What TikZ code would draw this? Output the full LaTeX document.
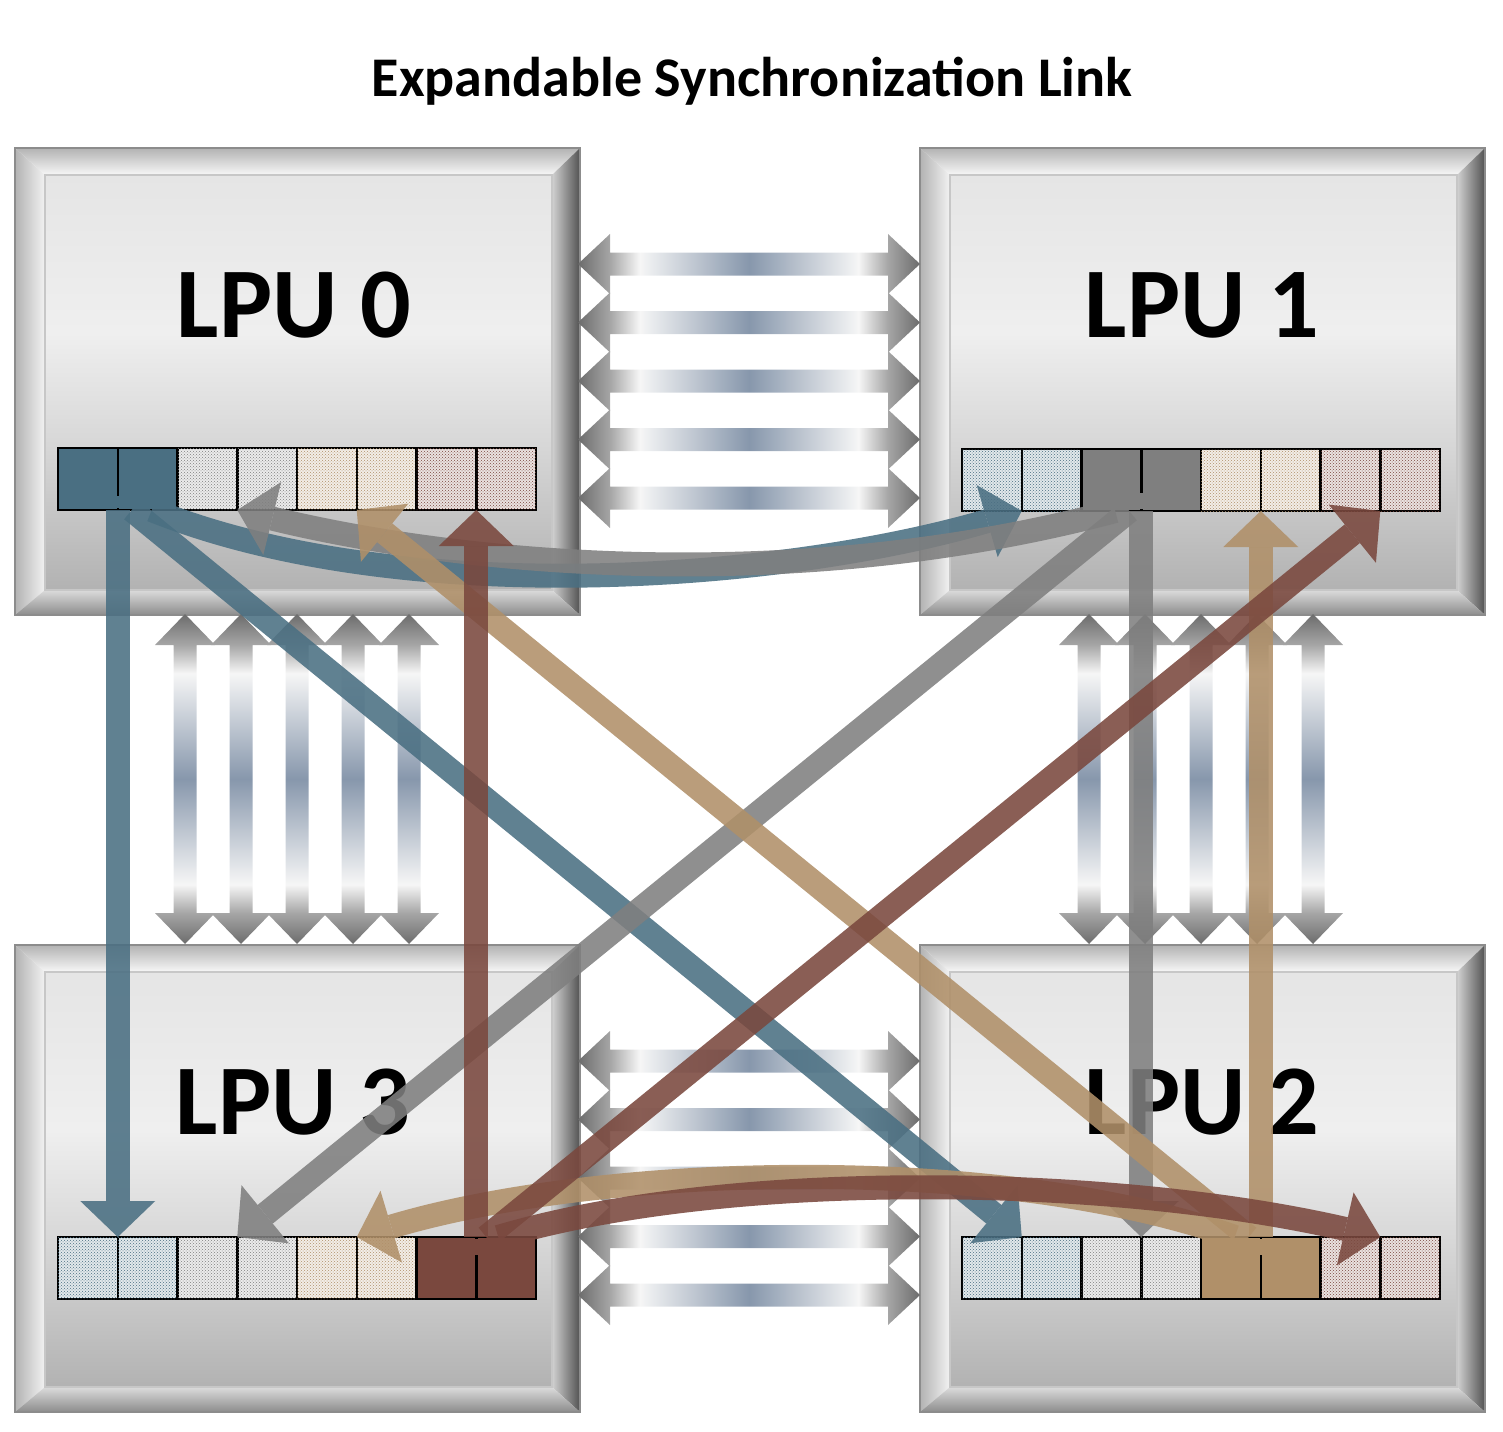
\documentclass[tikz,border=0pt]{standalone}
\usepackage{fontspec}
\setmainfont{Carlito}
\usepackage{tikz}
\usetikzlibrary{arrows.meta,patterns,positioning}

\definecolor{lnkblue}{HTML}{4A6F82}
\definecolor{lnkgrey}{HTML}{7F7F7F}
\definecolor{lnktan}{HTML}{B09069}
\definecolor{lnkred}{HTML}{7A483E}
\definecolor{barend}{HTML}{6C6C6C}
\definecolor{barhead}{HTML}{A6A6A6}
\definecolor{barlight}{HTML}{F6F6F6}
\definecolor{barmid}{HTML}{8797AC}
\definecolor{panelbot}{HTML}{B2B2B2}
\definecolor{panelmid}{HTML}{D6D6D6}
\definecolor{panelhi}{HTML}{EFEFEF}
\definecolor{paneltop}{HTML}{E5E5E5}

% link bar: grey heads, white, blue-grey centre
\pgfdeclarehorizontalshading{linkbar}{100bp}{%
  color(0bp)=(barend); color(25bp)=(barend); color(29.7bp)=(barhead);
  color(34bp)=(barlight); color(50bp)=(barmid); color(66bp)=(barlight);
  color(70.3bp)=(barhead); color(75bp)=(barend); color(100bp)=(barend)}
% LPU panel, darker at the bottom
\pgfdeclareverticalshading{lpupanel}{100bp}{%
  color(0bp)=(panelbot); color(25bp)=(panelbot); color(42bp)=(panelmid);
  color(56bp)=(panelhi); color(75bp)=(paneltop); color(100bp)=(paneltop)}

% bevelled LPU frame, #1,#2 = top left corner (px)
\newcommand{\lpuframe}[2]{%
  \begin{scope}[shift={(#1,#2)}]
    \shade[shading=lpupanel] (30,27) rectangle (537,442);
    \shade[top color=black!30,bottom color=black!3] (0,0) -- (565,0) -- (537,27) -- (30,27) -- cycle;
    \shade[left color=black!30,right color=black!5] (0,0) -- (30,27) -- (30,442) -- (0,467) -- cycle;
    \shade[left color=black!18,right color=black!68] (565,0) -- (537,27) -- (537,442) -- (565,467) -- cycle;
    \shade[top color=black!14,bottom color=black!45] (0,467) -- (30,442) -- (537,442) -- (565,467) -- cycle;
    \draw[black!45,line width=1.2pt] (0,0) rectangle (565,467);
    \draw[black!22,line width=1.5pt] (30,27) rectangle (537,442);
  \end{scope}}

% row of 8 slots: #1 name, #2 left edge, #3 centre y, #4 solid pair
\newcommand{\lpurow}[4]{%
  \foreach \i/\col in {1/lnkblue,2/lnkblue,3/lnkgrey,4/lnkgrey,5/lnktan,6/lnktan,7/lnkred,8/lnkred} {
    \pgfmathtruncatemacro{\pair}{(\i+1)/2}
    \ifnum\pair=#4
      \node[slot,fill=\col] (#1c\i) at ({#2+29.875+(\i-1)*59.75},#3) {};
    \else
      \node[slot,fill=\col!16!white,postaction={pattern=crosshatch dots,pattern color=\col}] (#1c\i) at ({#2+29.875+(\i-1)*59.75},#3) {};
    \fi
  }}

\begin{document}
\begin{tikzpicture}[x=1pt,y=-1pt,
    title/.style={font=\fontsize{56}{56}\selectfont\bfseries},
    lpulabel/.style={font=\fontsize{100}{100}\selectfont\bfseries,anchor=base},
    slot/.style={draw=black,line width=2.5pt,minimum width=59.75pt,minimum height=62pt,inner sep=0pt,outer sep=0pt},
    flow/.style={line width=24pt,opacity=0.88,-{Triangle[width=75pt,length=36pt,line width=0pt]}},
    linkh/.style={shading=linkbar},
    linkv/.style={shading=linkbar,shading angle=90}]
  \useasboundingbox (0,0) rectangle (1503,1431);

  % title
  \node[title,anchor=base] (title) at (752,97) {Expandable Synchronization Link};

  % LPU frames
  \lpuframe{15}{148}
  \lpuframe{920}{148}
  \lpuframe{920}{945}
  \lpuframe{15}{945}

  % synchronization links, horizontal
  \foreach \y in {264,322.5,381,439.5,498,1061,1119.5,1178,1236.5,1295} {
    \shade[linkh] (578,\y) -- ++(32,-30) -- ++(0,18.5) -- ++(278,0) -- ++(0,-18.5) -- ++(32,30)
      -- ++(-32,30) -- ++(0,-18.5) -- ++(-278,0) -- ++(0,18.5) -- cycle;
  }
  % synchronization links, vertical
  \foreach \x in {185,241,297,353,409,1089,1145,1201,1257,1313} {
    \shade[linkv] (\x,614) -- ++(30,31) -- ++(-18.5,0) -- ++(0,268) -- ++(18.5,0) -- ++(-30,31)
      -- ++(-30,-31) -- ++(18.5,0) -- ++(0,-268) -- ++(-18.5,0) -- cycle;
  }

  % slot rows
  \lpurow{r0}{58}{479}{1}
  \lpurow{r1}{962}{480}{2}
  \lpurow{r2}{962}{1268}{3}
  \lpurow{r3}{58}{1268}{4}
  \draw[lnkblue,line width=3pt] ([yshift=2pt]r0c1.south east) -- ([yshift=14pt]r0c1.south east);
  \draw[lnkgrey,line width=3pt] ([yshift=2pt]r1c3.south east) -- ([yshift=18pt]r1c3.south east);
  \draw[lnktan,line width=3pt] ([yshift=-2pt]r2c5.north east) -- ([yshift=-18pt]r2c5.north east);
  \draw[lnkred,line width=3pt] ([yshift=-2pt]r3c7.north east) -- ([yshift=-18pt]r3c7.north east);

  % labels
  \node[lpulabel] (lpu0) at (294,337) {LPU 0};
  \node[lpulabel] (lpu1) at (1202,337) {LPU 1};
  \node[lpulabel] (lpu2) at (1202,1134) {LPU 2};
  \node[lpulabel] (lpu3) at (293,1134) {LPU 3};

  % LPU 0 -> all
  \draw[flow,lnkblue] (r0c1.south east) -- (r3c1.north east);
  \draw[flow,lnkblue] ([xshift=14pt]r0c1.south east) -- (r2c1.north east);
  \draw[flow,lnkblue] ([xshift=34pt]r0c1.south east) .. controls +(250,100) and +(-240,70) .. (r1c1.south east);

  % LPU 1 -> all
  \draw[flow,lnkgrey] (r1c3.south east) -- (r2c3.north east);
  \draw[flow,lnkgrey] ([xshift=-12pt]r1c3.south east) -- (r3c3.north east);
  \draw[flow,lnkgrey] ([xshift=-26pt]r1c3.south east) .. controls +(-320,85) and +(225,55) .. (r0c3.south east);

  % LPU 2 -> all
  \draw[flow,lnktan] (r2c5.north east) -- (r1c5.south east);
  \draw[flow,lnktan] ([xshift=-12pt]r2c5.north east) -- (r0c5.south east);
  \draw[flow,lnktan] ([xshift=-26pt]r2c5.north east) .. controls +(-240,-85) and +(240,-72) .. (r3c5.north east);

  % LPU 3 -> all
  \draw[flow,lnkred] (r3c7.north east) -- (r0c7.south east);
  \draw[flow,lnkred] ([xshift=10pt]r3c7.north east) -- (r1c7.south east);
  \draw[flow,lnkred] ([xshift=22pt]r3c7.north east) .. controls +(230,-68) and +(-270,-62) .. (r2c7.north east);
\end{tikzpicture}
\end{document}
